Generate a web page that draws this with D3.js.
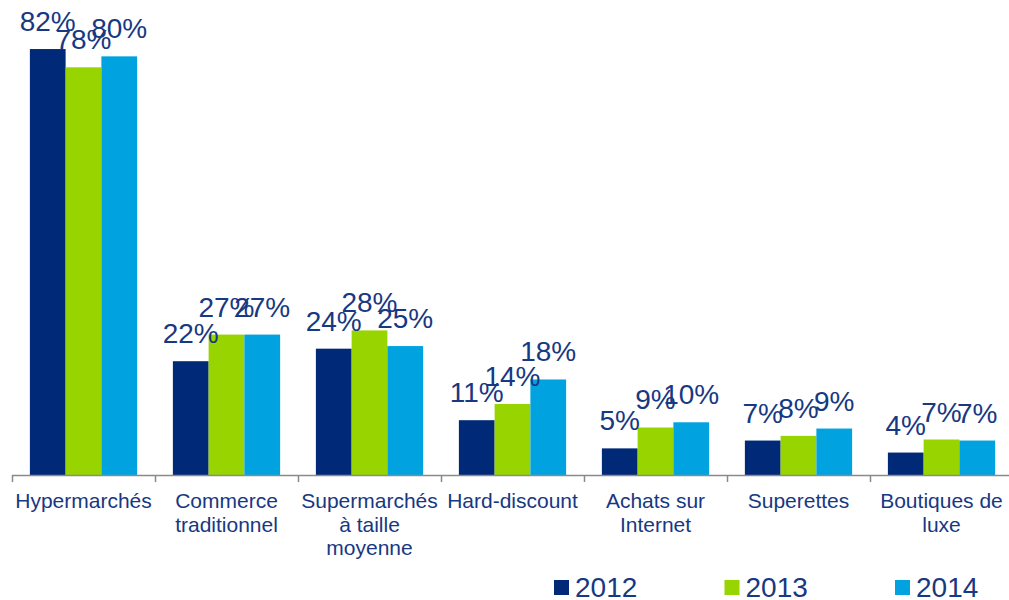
<!DOCTYPE html>
<html><head><meta charset="utf-8">
<script src="https://cdn.jsdelivr.net/npm/d3@7/dist/d3.min.js"></script>
<style>body{margin:0;background:#fff}svg{display:block}text{font-family:"Liberation Sans",Arial,sans-serif}</style>
</head><body>
<svg id="c" width="1009" height="600"></svg>
<script>
const categories = ["Hypermarchés", "Commerce\ntraditionnel", "Supermarchés\nà taille\nmoyenne", "Hard-discount", "Achats sur\nInternet", "Superettes", "Boutiques de\nluxe"];
const years = ["2012", "2013", "2014"];
const v2012 = [81.6, 21.8, 24.2, 10.5, 5.1, 6.6, 4.3];
const v2013 = [78.1, 26.9, 27.7, 13.6, 9.1, 7.5, 6.8];
const v2014 = [80.2, 26.9, 24.7, 18.3, 10.1, 8.9, 6.6];
const colors = ["#002A78", "#97D400", "#00A3E0"];
const textColor = "#173882";

const series = [v2012, v2013, v2014];
const svg = d3.select("#c");
const x0 = d3.scaleBand().domain(categories).range([12, 1013]).paddingInner(0).paddingOuter(0);
const x1 = d3.scaleBand().domain(years).range([0, x0.bandwidth()]).paddingInner(0).paddingOuter(0.5);
const y = d3.scaleLinear().domain([0, 90]).range([475, 475 - 90 * 5.22]);

const data = [];
categories.forEach((c, i) => years.forEach((yr, j) => data.push({c, yr, j, v: series[j][i]})));

svg.append("g").selectAll("rect").data(data).join("rect")
  .attr("x", d => x0(d.c) + x1(d.yr))
  .attr("y", d => y(d.v))
  .attr("width", x1.bandwidth())
  .attr("height", d => y(0) - y(d.v))
  .attr("fill", d => colors[d.j]);

// axis
const ax = svg.append("g").attr("stroke", "#8a8a8a").attr("stroke-width", 1.5);
ax.append("line").attr("x1", 12).attr("x2", 1013).attr("y1", 475.5).attr("y2", 475.5);
const bounds = categories.map(c => x0(c)).concat([x0.range()[1]]);
ax.selectAll("line.t").data(bounds).join("line").attr("class", "t")
  .attr("x1", d => Math.round(d) + 0.5).attr("x2", d => Math.round(d) + 0.5)
  .attr("y1", 475).attr("y2", 482);

// category labels
const cl = svg.append("g").attr("fill", textColor).attr("font-size", 21).attr("text-anchor", "middle");
categories.forEach(c => {
  const t = cl.append("text").attr("x", x0(c) + x0.bandwidth() / 2).attr("y", 508);
  c.split("\n").forEach((line, k) => {
    t.append("tspan").attr("x", x0(c) + x0.bandwidth() / 2).attr("dy", k === 0 ? 0 : 23.5).text(line);
  });
});

// value labels
svg.append("g").attr("fill", textColor).attr("font-size", 28).attr("text-anchor", "middle")
  .selectAll("text").data(data).join("text")
  .attr("x", d => x0(d.c) + x1(d.yr) + x1.bandwidth() / 2)
  .attr("y", d => y(d.v) - 18)
  .text(d => Math.round(d.v) + "%");

// legend
const leg = svg.append("g");
years.forEach((yr, j) => {
  const lx = 554 + j * 170.5;
  leg.append("rect").attr("x", lx).attr("y", 580).attr("width", 15).attr("height", 15).attr("fill", colors[j]);
  leg.append("text").attr("x", lx + 21).attr("y", 596.5).attr("font-size", 28).attr("fill", textColor).text(yr);
});
</script>
</body></html>
